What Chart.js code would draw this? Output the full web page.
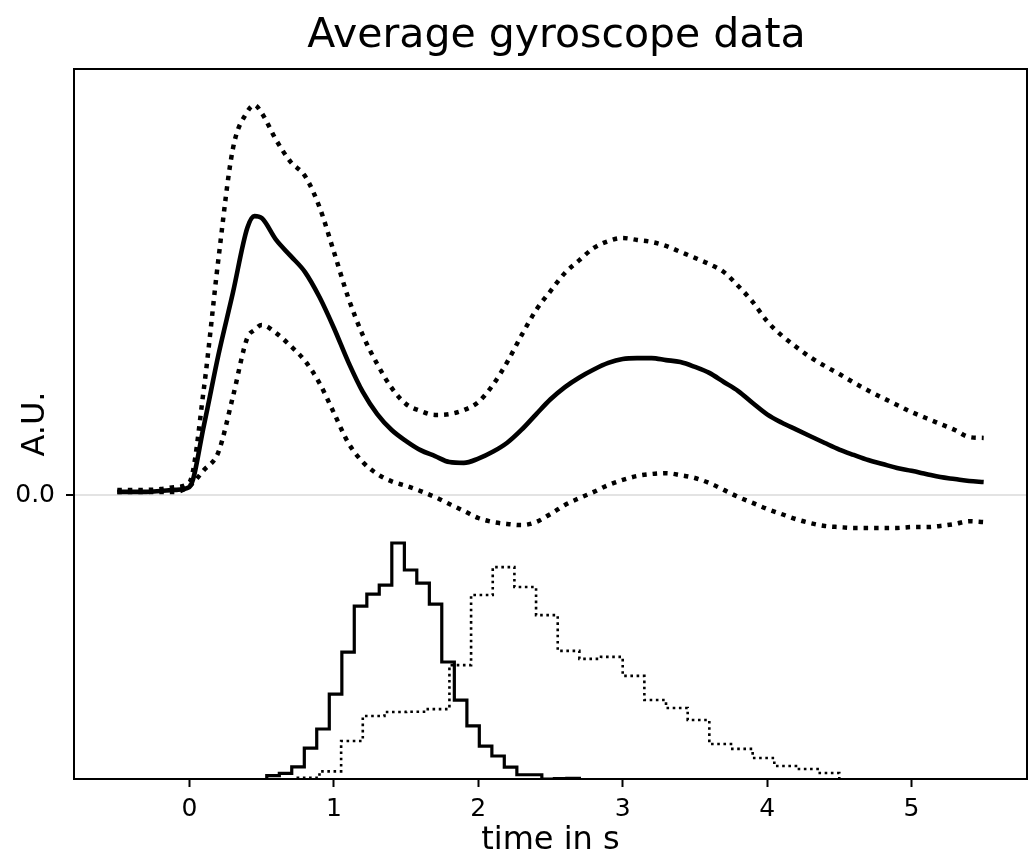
<!DOCTYPE html>
<html>
<head>
<meta charset="utf-8">
<script src="https://cdn.jsdelivr.net/npm/chart.js@4.4.0/dist/chart.umd.min.js"></script>
<style>
  body { margin: 0; background: #fff; }
  #wrap { width: 1034px; height: 855px; }
</style>
</head>
<body>
<div id="wrap"><canvas id="gyroChart" width="1034" height="855"></canvas></div>
<script>
// time axis of the averaged curves (s)
const timeS = [-0.5, -0.4, -0.3, -0.2, -0.1, 0.0, 0.1, 0.2, 0.3, 0.4, 0.45, 0.5, 0.6, 0.7, 0.8, 0.9, 1.0,
    1.1, 1.2, 1.3, 1.4, 1.5, 1.6, 1.7, 1.8, 1.9, 2.0, 2.1, 2.2, 2.3, 2.4, 2.5, 2.6, 2.7, 2.8, 2.9, 3.0,
    3.1, 3.2, 3.3, 3.4, 3.5, 3.6, 3.7, 3.8, 3.9, 4.0, 4.1, 4.2, 4.3, 4.4, 4.5, 4.6, 4.7, 4.8, 4.9, 5.0,
    5.1, 5.2, 5.3, 5.4, 5.5];

const meanGyro = [0.011, 0.011, 0.011, 0.014, 0.018, 0.028, 0.246, 0.493, 0.711, 0.940, 0.982,
    0.975, 0.898, 0.842, 0.785, 0.697, 0.588,
    0.468, 0.363, 0.285, 0.229, 0.190, 0.158, 0.137, 0.116, 0.113, 0.128,
    0.152, 0.184, 0.230, 0.284, 0.337, 0.380, 0.414, 0.442, 0.465, 0.479,
    0.482, 0.482, 0.475, 0.468, 0.451, 0.430, 0.398, 0.366, 0.324, 0.284,
    0.255, 0.231, 0.207, 0.183, 0.160, 0.141, 0.123, 0.109, 0.095, 0.085,
    0.074, 0.063, 0.056, 0.049, 0.046];

const upperGyro = [0.018, 0.018, 0.018, 0.021, 0.028, 0.046, 0.377, 0.830, 1.218, 1.349, 1.373,
    1.345, 1.250, 1.173, 1.123, 1.014, 0.856,
    0.694, 0.563, 0.461, 0.377, 0.320, 0.296, 0.282, 0.285, 0.299, 0.327,
    0.387, 0.468, 0.563, 0.651, 0.718, 0.782, 0.827, 0.870, 0.894, 0.905,
    0.898, 0.891, 0.877, 0.856, 0.835, 0.813, 0.785, 0.736, 0.680, 0.612,
    0.562, 0.522, 0.485, 0.454, 0.426, 0.396, 0.368, 0.342, 0.317, 0.292,
    0.271, 0.250, 0.229, 0.204, 0.201];

const lowerGyro = [0.011, 0.011, 0.011, 0.011, 0.011, 0.032, 0.088, 0.151, 0.345, 0.553, 0.581,
    0.599, 0.570, 0.525, 0.472, 0.394, 0.289,
    0.183, 0.116, 0.074, 0.048, 0.032, 0.014, -0.007, -0.032, -0.056, -0.081,
    -0.095, -0.102, -0.106, -0.095, -0.067, -0.035, -0.011, 0.011, 0.035, 0.053,
    0.067, 0.074, 0.077, 0.070, 0.060, 0.042, 0.018, -0.007, -0.028, -0.049,
    -0.067, -0.085, -0.099, -0.109, -0.113, -0.116, -0.116, -0.116, -0.116, -0.113,
    -0.113, -0.109, -0.102, -0.092, -0.095];

// histograms drawn below the curves, on top of a baseline
const histBaseline = -1;

const solidHistEdges = [0.535, 0.622, 0.708, 0.795, 0.881, 0.968, 1.055, 1.141, 1.228, 1.314, 1.401,
    1.488, 1.574, 1.661, 1.747, 1.834, 1.921, 2.007, 2.094, 2.180, 2.267, 2.354, 2.440, 2.527, 2.613, 2.700];
const solidHist = [0.012, 0.020, 0.043, 0.109, 0.176, 0.299, 0.447, 0.609, 0.651, 0.683, 0.831, 0.736,
    0.690, 0.616, 0.412, 0.278, 0.187, 0.116, 0.081, 0.042, 0.015, 0.015, 0.0, 0.001, 0.002];

const dottedHistEdges = [0.75, 0.90, 1.05, 1.20, 1.35, 1.50, 1.65, 1.80, 1.95, 2.10, 2.25, 2.40, 2.55,
    2.70, 2.85, 3.00, 3.15, 3.30, 3.45, 3.60, 3.75, 3.90, 4.05, 4.20, 4.35, 4.50];
const dottedHist = [0.004, 0.027, 0.134, 0.222, 0.236, 0.237, 0.246, 0.401, 0.648, 0.746, 0.676, 0.577,
    0.451, 0.423, 0.430, 0.363, 0.278, 0.250, 0.208, 0.123, 0.106, 0.074, 0.046, 0.035, 0.021];

const xTicks = [0, 1, 2, 3, 4, 5];
const xTickLabels = ['0', '1', '2', '3', '4', '5'];
const yTicks = [0];
const yTickLabels = ['0.0'];

const chartTitle = 'Average gyroscope data';

function toPoints(xs, ys) {
    return xs.map(function(x, i) { return { x: x, y: ys[i] }; });
}

function histPoints(edges, heights) {
    const pts = [{ x: edges[0], y: histBaseline }];
    heights.forEach(function(h, i) {
        pts.push({ x: edges[i], y: histBaseline + h });
    });
    const last = edges[edges.length - 1];
    pts.push({ x: last, y: histBaseline + heights[heights.length - 1] });
    pts.push({ x: last, y: histBaseline });
    return pts;
}

const fontFamily = "'DejaVu Sans', sans-serif";

// box round the axes and a title centred over the plot area
const frame = {
    id: 'frame',
    afterDraw(chart) {
        const { ctx, chartArea: a } = chart;
        ctx.save();
        ctx.strokeStyle = '#000';
        ctx.lineWidth = 2;
        ctx.strokeRect(a.left, a.top, a.right - a.left, a.bottom - a.top);
        ctx.fillStyle = '#000';
        ctx.font = '41px ' + fontFamily;
        ctx.textAlign = 'center';
        ctx.textBaseline = 'alphabetic';
        ctx.fillText(chartTitle, (a.left + a.right) / 2 + 6, 47);
        ctx.restore();
    }
};

const ctx = document.getElementById('gyroChart').getContext('2d');

new Chart(ctx, {
    type: 'line',
    data: {
        datasets: [
            {
                data: toPoints(timeS, meanGyro),
                borderColor: '#000', borderWidth: 4.6,
                cubicInterpolationMode: 'monotone'
            },
            {
                data: toPoints(timeS, upperGyro),
                borderColor: '#000', borderWidth: 4.5, borderDash: [4.5, 6],
                cubicInterpolationMode: 'monotone'
            },
            {
                data: toPoints(timeS, lowerGyro),
                borderColor: '#000', borderWidth: 4.5, borderDash: [4.5, 6],
                cubicInterpolationMode: 'monotone'
            },
            {
                data: histPoints(solidHistEdges, solidHist),
                borderColor: '#000', borderWidth: 3.2,
                stepped: 'before'
            },
            {
                data: histPoints(dottedHistEdges, dottedHist),
                borderColor: '#000', borderWidth: 2.6, borderDash: [2.6, 3.6],
                stepped: 'before'
            }
        ]
    },
    options: {
        responsive: false,
        animation: false,
        layout: { padding: { top: 69, right: 7 } },
        elements: { point: { radius: 0 } },
        plugins: {
            legend: { display: false },
            tooltip: { enabled: false },
            title: { display: false }
        },
        scales: {
            x: {
                type: 'linear',
                min: -0.8,
                max: 5.8,
                afterBuildTicks: function(scale) {
                    scale.ticks = xTicks.map(function(v) { return { value: v }; });
                },
                afterFit: function(scale) { scale.height = 76; },
                ticks: {
                    color: '#000',
                    padding: 7,
                    font: { family: fontFamily, size: 25 },
                    callback: function(v) { return xTickLabels[xTicks.indexOf(v)]; }
                },
                grid: {
                    drawOnChartArea: false,
                    tickLength: 8,
                    tickColor: '#000',
                    tickWidth: 2
                },
                border: { color: '#000', width: 2 },
                title: {
                    display: true,
                    text: 'time in s',
                    color: '#000',
                    font: { family: fontFamily, size: 32 },
                    padding: { top: 0, bottom: -5 }
                }
            },
            y: {
                type: 'linear',
                min: -1,
                max: 1.5,
                afterBuildTicks: function(scale) {
                    scale.ticks = yTicks.map(function(v) { return { value: v }; });
                },
                afterFit: function(scale) { scale.width = 74; },
                ticks: {
                    color: '#000',
                    padding: 11,
                    font: { family: fontFamily, size: 25 },
                    callback: function(v) { return yTickLabels[yTicks.indexOf(v)]; }
                },
                grid: {
                    color: '#e3e3e3',
                    lineWidth: 2,
                    tickLength: 8,
                    tickColor: '#000',
                    tickWidth: 2
                },
                border: { color: '#000', width: 2 },
                title: {
                    display: true,
                    text: 'A.U.',
                    color: '#000',
                    font: { family: fontFamily, size: 32 },
                    padding: { top: 16, bottom: 0 }
                }
            }
        }
    },
    plugins: [frame]
});
</script>
</body>
</html>
